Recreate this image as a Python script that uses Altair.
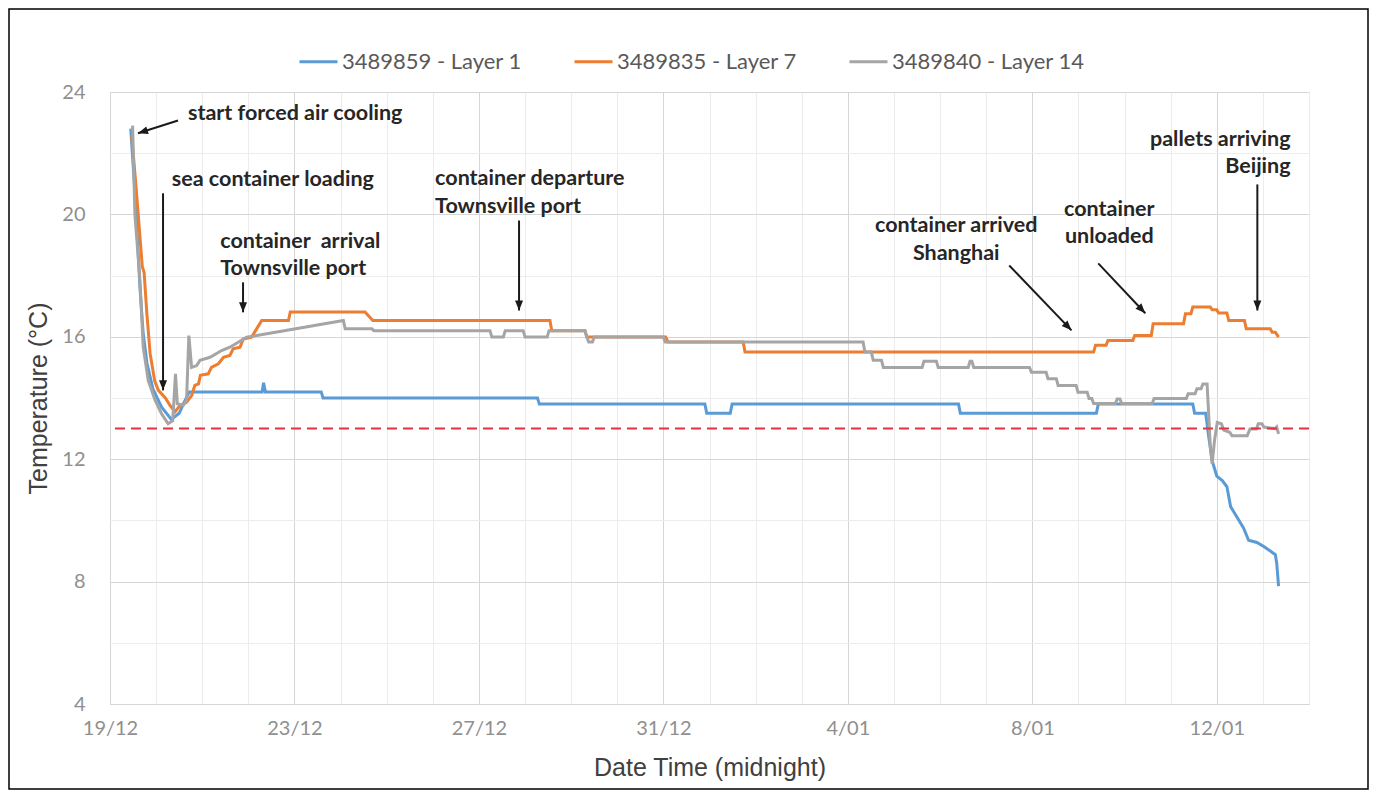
import math
import altair as alt
import pandas as pd

# ---------------- data (days after 19/12 00:00, temperature in °C) ----------------
series_names = ["3489859 - Layer 1", "3489835 - Layer 7", "3489840 - Layer 14"]
series_colors = ["#5b9bd5", "#ed7d31", "#a5a5a5"]

layer1_day = [0.45, 0.55, 0.65, 0.72, 0.8, 0.93, 1.12, 1.33, 1.5, 1.62,
              1.72, 3.3, 3.33, 3.37, 4.58, 4.62, 9.27, 9.31, 12.9, 12.94,
              13.45, 13.49, 18.4, 18.44, 21.39, 21.43, 23.48, 23.52, 23.76, 23.82,
              23.9, 24.0, 24.12, 24.22, 24.3, 24.44, 24.58, 24.69, 24.87, 25.02,
              25.16, 25.27, 25.3, 25.34]
layer1_temp = [22.8, 20.5, 17.6, 16.1, 15.15, 14.3, 13.7, 13.3, 13.5, 13.9,
               14.2, 14.2, 14.5, 14.2, 14.2, 14.0, 14.0, 13.8, 13.8, 13.5,
               13.5, 13.8, 13.8, 13.5, 13.5, 13.8, 13.8, 13.5, 13.5, 12.8,
               11.95, 11.45, 11.3, 11.1, 10.45, 10.1, 9.75, 9.35, 9.28, 9.15,
               9.0, 8.88, 8.6, 7.85]

layer7_day = [0.47, 0.57, 0.7, 0.74, 0.8, 0.87, 0.97, 1.05, 1.2, 1.3,
              1.41, 1.52, 1.66, 1.77, 1.84, 1.92, 1.96, 2.13, 2.2, 2.35,
              2.46, 2.6, 2.67, 2.82, 2.89, 3.07, 3.18, 3.29, 3.87, 3.91,
              5.53, 5.7, 9.54, 9.58, 10.3, 10.34, 12.05, 12.1, 13.73, 13.77,
              21.33, 21.37, 21.6, 21.64, 22.18, 22.22, 22.58, 22.62, 23.28, 23.32,
              23.44, 23.48, 23.86, 23.9, 24.0, 24.04, 24.22, 24.26, 24.6, 24.64,
              25.16, 25.2, 25.27, 25.34]
layer7_temp = [22.6, 20.8, 18.3, 18.1, 16.75, 15.45, 14.55, 14.25, 14.0, 13.76,
               13.55, 13.76, 13.86, 14.08, 14.41, 14.46, 14.74, 14.79, 15.0, 15.12,
               15.33, 15.39, 15.61, 15.66, 15.93, 15.99, 16.26, 16.53, 16.53, 16.81,
               16.81, 16.53, 16.53, 16.2, 16.2, 15.99, 15.99, 15.83, 15.83, 15.5,
               15.5, 15.72, 15.72, 15.88, 15.88, 16.04, 16.04, 16.43, 16.43, 16.75,
               16.75, 16.97, 16.97, 16.88, 16.88, 16.78, 16.78, 16.53, 16.53, 16.26,
               16.26, 16.15, 16.15, 15.99]

layer14_day = [0.49, 0.54, 0.65, 0.72, 0.83, 0.98, 1.12, 1.26, 1.36, 1.42,
               1.46, 1.59, 1.66, 1.71, 1.77, 1.88, 1.95, 2.17, 2.42, 2.6,
               2.78, 2.96, 3.18, 5.06, 5.1, 5.68, 5.72, 8.24, 8.28, 8.53,
               8.57, 8.96, 9.0, 9.48, 9.52, 10.3, 10.34, 10.38, 10.46, 10.5,
               12.0, 12.04, 16.33, 16.37, 16.51, 16.55, 16.73, 16.77, 17.61, 17.65,
               17.92, 17.96, 18.61, 18.65, 18.69, 18.73, 19.94, 19.98, 20.3, 20.34,
               20.52, 20.56, 20.95, 20.99, 21.19, 21.23, 21.29, 21.33, 21.8, 21.84,
               21.9, 21.94, 22.6, 22.64, 23.34, 23.38, 23.53, 23.57, 23.66, 23.7,
               23.79, 23.82, 23.86, 23.9, 23.95, 24.01, 24.1, 24.15, 24.28, 24.33,
               24.66, 24.72, 24.86, 24.9, 24.98, 25.02, 25.27, 25.3, 25.34]
layer14_temp = [22.9, 20.0, 17.84, 15.66, 14.57, 13.92, 13.48, 13.16, 13.26, 14.79,
                13.81, 13.76, 13.92, 16.04, 15.0, 15.06, 15.23, 15.33, 15.55, 15.66,
                15.82, 15.99, 16.04, 16.53, 16.26, 16.26, 16.2, 16.2, 15.99, 15.99,
                16.2, 16.2, 15.99, 15.99, 16.2, 16.2, 15.99, 15.83, 15.83, 15.99,
                15.99, 15.83, 15.83, 15.5, 15.5, 15.23, 15.23, 15.0, 15.0, 15.2,
                15.2, 15.0, 15.0, 15.2, 15.2, 15.0, 15.0, 14.84, 14.84, 14.63,
                14.63, 14.41, 14.41, 14.19, 14.19, 13.98, 13.98, 13.82, 13.82, 13.97,
                13.97, 13.82, 13.82, 13.98, 13.98, 14.14, 14.14, 14.3, 14.3, 14.46,
                14.46, 13.6, 12.4, 11.85, 12.6, 13.2, 13.16, 12.95, 12.88, 12.77,
                12.77, 12.99, 12.99, 13.16, 13.16, 13.05, 13.0, 13.05, 12.83]

threshold_temp = [13.0]

x_tick_labels = ["19/12", "23/12", "27/12", "31/12", "4/01", "8/01", "12/01"]
x_domain = [0, 26]
y_domain = [4, 24]

ann_text = ["start forced air cooling", "sea container loading",
            "container\u00a0 arrival", "Townsville port",
            "container departure", "Townsville port",
            "container arrived", "Shanghai",
            "container", "unloaded",
            "pallets arriving", "Beijing"]
ann_day = [1.69, 1.34, 2.39, 2.39, 7.05, 7.05, 18.35, 18.35, 21.67, 21.67, 25.6, 25.6]
ann_temp = [23.29, 21.11, 19.09, 18.22, 21.17, 20.24, 19.61, 18.72, 20.13, 19.26, 22.42, 21.55]
ann_align = ["left", "left", "left", "left", "left", "left",
             "center", "center", "center", "center", "right", "right"]

arrow_day_from = [1.475, 1.15, 2.885, 8.87, 19.5, 21.43, 24.88]
arrow_temp_from = [23.07, 20.69, 17.78, 19.80, 18.33, 18.40, 20.98]
arrow_day_to = [0.607, 1.15, 2.885, 8.87, 20.85, 22.45, 24.88]
arrow_temp_to = [22.65, 14.25, 16.80, 16.86, 16.21, 16.77, 16.86]

# ---------------- layout ----------------
W, H = 1199, 612
PAD = {"left": 102, "top": 84, "right": 60, "bottom": 86}

rows = []
for name, ds, ts in [(series_names[0], layer1_day, layer1_temp),
                     (series_names[1], layer7_day, layer7_temp),
                     (series_names[2], layer14_day, layer14_temp)]:
    for d, t in zip(ds, ts):
        rows.append({"day": d, "temp": t, "series": name})
lines_df = pd.DataFrame(rows)

ann_df = pd.DataFrame({"day": ann_day, "temp": ann_temp, "text": ann_text, "align": ann_align})

px_day = W / (x_domain[1] - x_domain[0])
px_deg = H / (y_domain[1] - y_domain[0])
angles = []
for d1, t1, d2, t2 in zip(arrow_day_from, arrow_temp_from, arrow_day_to, arrow_temp_to):
    dx = (d2 - d1) * px_day
    dy = -(t2 - t1) * px_deg
    angles.append(math.degrees(math.atan2(dx, -dy)) % 360)
arrow_df = pd.DataFrame({"day": arrow_day_from, "temp": arrow_temp_from,
                         "day2": arrow_day_to, "temp2": arrow_temp_to, "angle": angles})
thr_df = pd.DataFrame({"temp": threshold_temp})

labels_js = "[" + ",".join("'%s'" % s for s in x_tick_labels) + "]"

grid_cond = {"condition": {"test": "datum.value % 4 === 0", "value": "#d6d6d6"}, "value": "#ececec"}

x_axis = alt.Axis(
    values=list(range(x_domain[0], x_domain[1] + 1)),
    labelExpr="datum.value %% 4 === 0 ? %s[datum.value / 4] : ''" % labels_js,
    title="Date Time (midnight)",
    grid=True, gridColor=grid_cond,
    ticks=False,
    domainColor="#d6d6d6",
    labelFont="Lato", labelFontSize=20, labelColor="#8f8f8f", labelPadding=14,
    labelOverlap=False, labelFlush=False, labelBound=False,
    titleFont="Liberation Sans", titleFontSize=25, titleFontWeight="normal",
    titleColor="#404040", titlePadding=17,
)
y_axis = alt.Axis(
    values=list(range(y_domain[0], y_domain[1] + 1, 2)),
    labelExpr="datum.value % 4 === 0 ? datum.label : ''",
    title="Temperature (°C)",
    grid=True, gridColor=grid_cond,
    ticks=False, domain=False,
    labelFont="Lato", labelFontSize=20, labelColor="#8f8f8f", labelPadding=25,
    labelOverlap=False,
    titleFont="Liberation Sans", titleFontSize=25, titleFontWeight="normal",
    titleColor="#404040", titlePadding=10,
)

xs = alt.Scale(domain=x_domain, nice=False, zero=False)
ys = alt.Scale(domain=y_domain, nice=False, zero=False)


def X(field):
    return alt.X(field, type="quantitative", scale=xs, axis=x_axis, title="Date Time (midnight)")


def Y(field):
    return alt.Y(field, type="quantitative", scale=ys, axis=y_axis, title="Temperature (°C)")


legend = alt.Legend(
    title=None, orient="none", legendX=188, legendY=-51, direction="horizontal",
    symbolType="stroke", symbolStrokeWidth=3, symbolSize=1444,
    labelFont="Lato", labelFontSize=22, labelColor="#595959", labelLimit=400,
    labelOffset=3, columnPadding=46, padding=0,
)
color = alt.Color("series:N", scale=alt.Scale(domain=series_names, range=series_colors), legend=legend)

base = alt.Chart(lines_df)
line_layers = [
    base.transform_filter(alt.datum.series == name)
    .mark_line(strokeWidth=3, strokeJoin="miter")
    .encode(x=X("day"), y=Y("temp"), color=color)
    for name in series_names
]

thr = alt.Chart(thr_df).mark_rule(color="#e2343c", strokeWidth=2, strokeDash=[10, 6]).encode(y=Y("temp"))

arrow_lines = alt.Chart(arrow_df).mark_rule(color="#1a1a1a", strokeWidth=2).encode(
    x=X("day"), x2="day2", y=Y("temp"), y2="temp2")
arrow_heads = alt.Chart(arrow_df).mark_point(
    shape="M0,0L0.8,2L-0.8,2Z", filled=True, color="#1a1a1a", size=100, opacity=1
).encode(x=X("day2"), y=Y("temp2"), angle=alt.Angle("angle:Q", scale=None))

text_layers = [
    alt.Chart(ann_df).transform_filter(alt.datum.align == a)
    .mark_text(align=a, baseline="middle", font="Lato", fontWeight="bold", fontSize=21.5, color="#262626")
    .encode(x=X("day"), y=Y("temp"), text="text:N")
    for a in ["left", "center", "right"]
]

border = alt.Chart(pd.DataFrame({"k": [0]})).mark_rect(
    fillOpacity=0, stroke="#000000", strokeWidth=1.5
).encode(
    x=alt.value(-PAD["left"] + 1), x2=alt.value(W + PAD["right"] - 1),
    y=alt.value(-PAD["top"] + 1), y2=alt.value(H + PAD["bottom"] - 1),
)

chart = alt.layer(
    *line_layers, thr, arrow_lines, arrow_heads, *text_layers, border
).properties(
    width=W, height=H,
    autosize=alt.AutoSizeParams(type="none"),
    padding=PAD,
).configure_view(strokeWidth=0).configure(background="white")

chart.save("out.html", embed_options={"renderer": "svg", "actions": False})
